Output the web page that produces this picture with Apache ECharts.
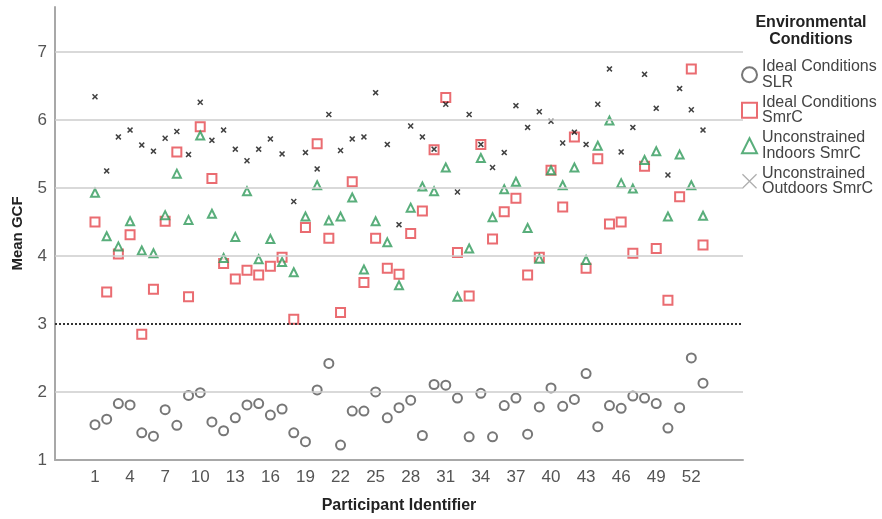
<!DOCTYPE html>
<html>
<head>
<meta charset="utf-8">
<script src="https://cdn.jsdelivr.net/npm/echarts@6/dist/echarts.min.js"></script>
<style>
  html, body { margin: 0; padding: 0; background: #fff; }
  #chart { width: 882px; height: 519px; }
</style>
</head>
<body>
<div id="chart"></div>
<script>
// participant ids 1..53
var participants = [1,2,3,4,5,6,7,8,9,10,11,12,13,14,15,16,17,18,19,20,21,22,23,24,25,26,27,
    28,29,30,31,32,33,34,35,36,37,38,39,40,41,42,43,44,45,46,47,48,49,50,51,52,53];
var xTickLabels = [1,4,7,10,13,16,19,22,25,28,31,34,37,40,43,46,49,52];
var yTickLabels = [1,2,3,4,5,6,7];
var gridValues = [2,4,5,6,7];
var threshold = 3;

var idealSLR = [1.52,1.60,1.83,1.81,1.40,1.35,1.74,1.51,1.95,1.99,
    1.56,1.43,1.62,1.81,1.83,1.66,1.75,1.40,1.27,2.03,
    2.42,1.22,1.72,1.72,2.00,1.62,1.77,1.88,1.36,2.11,
    2.10,1.91,1.34,1.98,1.34,1.80,1.91,1.38,1.78,2.06,
    1.79,1.89,2.27,1.49,1.80,1.76,1.94,1.91,1.83,1.47,
    1.77,2.50,2.13];
var idealSmrC = [4.50,3.47,4.03,4.31,2.85,3.51,4.51,5.53,3.40,5.90,
    5.14,3.89,3.66,3.79,3.72,3.85,3.98,3.07,4.42,5.65,
    4.26,3.17,5.09,3.61,4.26,3.82,3.73,4.33,4.66,5.56,
    6.33,4.05,3.41,5.64,4.25,4.65,4.85,3.72,3.98,5.26,
    4.72,5.75,3.82,5.43,4.47,4.50,4.04,5.32,4.11,3.35,
    4.87,6.75,4.16];
var indoorsSmrC = [4.93,4.29,4.14,4.51,4.08,4.04,4.60,5.21,4.53,5.77,
    4.62,3.97,4.28,4.95,3.95,4.25,3.91,3.76,4.58,5.04,
    4.52,4.58,4.86,3.80,4.51,4.20,3.57,4.71,5.02,4.95,
    5.30,3.40,4.11,5.44,4.57,4.98,5.09,4.41,3.96,5.26,
    5.04,5.30,3.94,5.62,5.99,5.07,4.99,5.41,5.54,4.58,
    5.49,5.04,4.59];
var outdoorsSmrC = [6.34,5.25,5.75,5.85,5.63,5.54,5.73,5.83,5.49,6.26,
    5.70,5.85,5.57,5.40,5.57,5.72,5.50,4.80,5.52,5.28,
    6.08,5.55,5.72,5.75,6.40,5.64,4.46,5.91,5.75,5.57,
    6.23,4.94,6.08,5.64,5.30,5.52,6.21,5.89,6.12,5.98,
    5.66,5.82,5.64,6.23,6.75,5.53,5.89,6.67,6.17,5.19,
    6.46,6.15,5.85];

var seriesNames = ['Ideal Conditions SLR', 'Ideal Conditions SmrC',
    'Unconstrained Indoors SmrC', 'Unconstrained Outdoors SmrC'];
var legendLabels = ['Ideal Conditions\nSLR', 'Ideal Conditions\nSmrC',
    'Unconstrained\nIndoors SmrC', 'Unconstrained\nOutdoors SmrC'];

function pairs(vals) {
    return participants.map(function (p, i) { return [p, vals[i]]; });
}

var crossBold = 'path://M0,1.8L1.8,0L5,3.2L8.2,0L10,1.8L6.8,5L10,8.2L8.2,10L5,6.8L1.8,10L0,8.2L3.2,5Z';
var crossThin = 'path://M0,0.6L0.6,0L5,4.4L9.4,0L10,0.6L5.6,5L10,9.4L9.4,10L5,5.6L0.6,10L0,9.4L4.4,5Z';
var font = '"Liberation Sans", Arial, sans-serif';

var chart = echarts.init(document.getElementById('chart'));
var option = {
    animation: false,
    backgroundColor: '#fff',
    textStyle: { fontFamily: font },
    grid: { left: 55, right: 139, top: 7, bottom: 58 },
    graphic: [{
        type: 'text',
        x: 811, y: 14,
        style: {
            text: 'Environmental\nConditions',
            textAlign: 'center',
            fontFamily: font,
            fontWeight: 'bold',
            fontSize: 16,
            lineHeight: 17,
            fill: '#222'
        }
    }],
    legend: {
        orient: 'vertical',
        left: 741,
        top: 59,
        padding: 0,
        itemWidth: 15,
        itemHeight: 15,
        itemGap: 4,
        textStyle: { fontSize: 16, lineHeight: 15.5, color: '#444', fontFamily: font },
        formatter: function (name) {
            return legendLabels[seriesNames.indexOf(name)];
        },
        data: [
            { name: seriesNames[0], icon: 'emptyCircle', itemStyle: { color: '#555', borderColor: '#555', borderWidth: 1.5 } },
            { name: seriesNames[1], icon: 'emptyRect', itemStyle: { color: '#e5474e', borderColor: '#e5474e', borderWidth: 1.5 } },
            { name: seriesNames[2], icon: 'emptyTriangle', itemStyle: { color: '#2f9a5a', borderColor: '#2f9a5a', borderWidth: 1.5 } },
            { name: seriesNames[3], icon: crossThin, itemStyle: { color: '#9a9a9a', borderWidth: 0 } }
        ]
    },
    xAxis: {
        type: 'value',
        min: -2.42,
        max: 56.42,
        name: 'Participant Identifier',
        nameLocation: 'middle',
        nameGap: 38,
        nameTextStyle: { fontSize: 16, fontWeight: 'bold', color: '#222' },
        axisLine: { show: true, onZero: false, lineStyle: { color: '#a8a8a8', width: 2 } },
        axisTick: { show: false },
        splitLine: { show: false },
        axisLabel: { customValues: xTickLabels, fontSize: 17, color: '#555', margin: 9 }
    },
    yAxis: {
        type: 'value',
        min: 1,
        max: 7.66,
        name: 'Mean GCF',
        nameLocation: 'middle',
        nameGap: 30,
        nameTextStyle: { fontSize: 15, fontWeight: 'bold', color: '#222' },
        axisLine: { show: true, onZero: false, lineStyle: { color: '#a8a8a8', width: 2 } },
        axisTick: { show: false },
        splitLine: { show: false },
        axisLabel: { customValues: yTickLabels, fontSize: 17, color: '#555', margin: 8 }
    },
    series: [
        {
            name: 'grid',
            type: 'scatter',
            data: [],
            silent: true,
            z: 1,
            markLine: {
                silent: true,
                symbol: 'none',
                label: { show: false },
                lineStyle: { color: '#cdcdcd', width: 1.5, type: 'solid' },
                data: gridValues.map(function (v) { return { yAxis: v }; }).concat([
                    { yAxis: threshold, lineStyle: { color: '#333', width: 2, type: [2, 2] } }
                ])
            }
        },
        {
            name: seriesNames[0],
            type: 'scatter',
            symbol: 'emptyCircle',
            symbolSize: 9,
            itemStyle: { color: '#555', borderWidth: 1.6 },
            data: pairs(idealSLR)
        },
        {
            name: seriesNames[1],
            type: 'scatter',
            symbol: 'emptyRect',
            symbolSize: 9,
            itemStyle: { color: '#e5474e', borderWidth: 1.6 },
            data: pairs(idealSmrC)
        },
        {
            name: seriesNames[2],
            type: 'scatter',
            symbol: 'emptyTriangle',
            symbolSize: 8,
            itemStyle: { color: '#2f9a5a', borderWidth: 1.6 },
            data: pairs(indoorsSmrC)
        },
        {
            name: seriesNames[3],
            type: 'scatter',
            symbol: crossBold,
            symbolSize: 6,
            itemStyle: { color: '#111' },
            data: pairs(outdoorsSmrC)
        }
    ]
};
chart.setOption(option);
</script>
</body>
</html>
